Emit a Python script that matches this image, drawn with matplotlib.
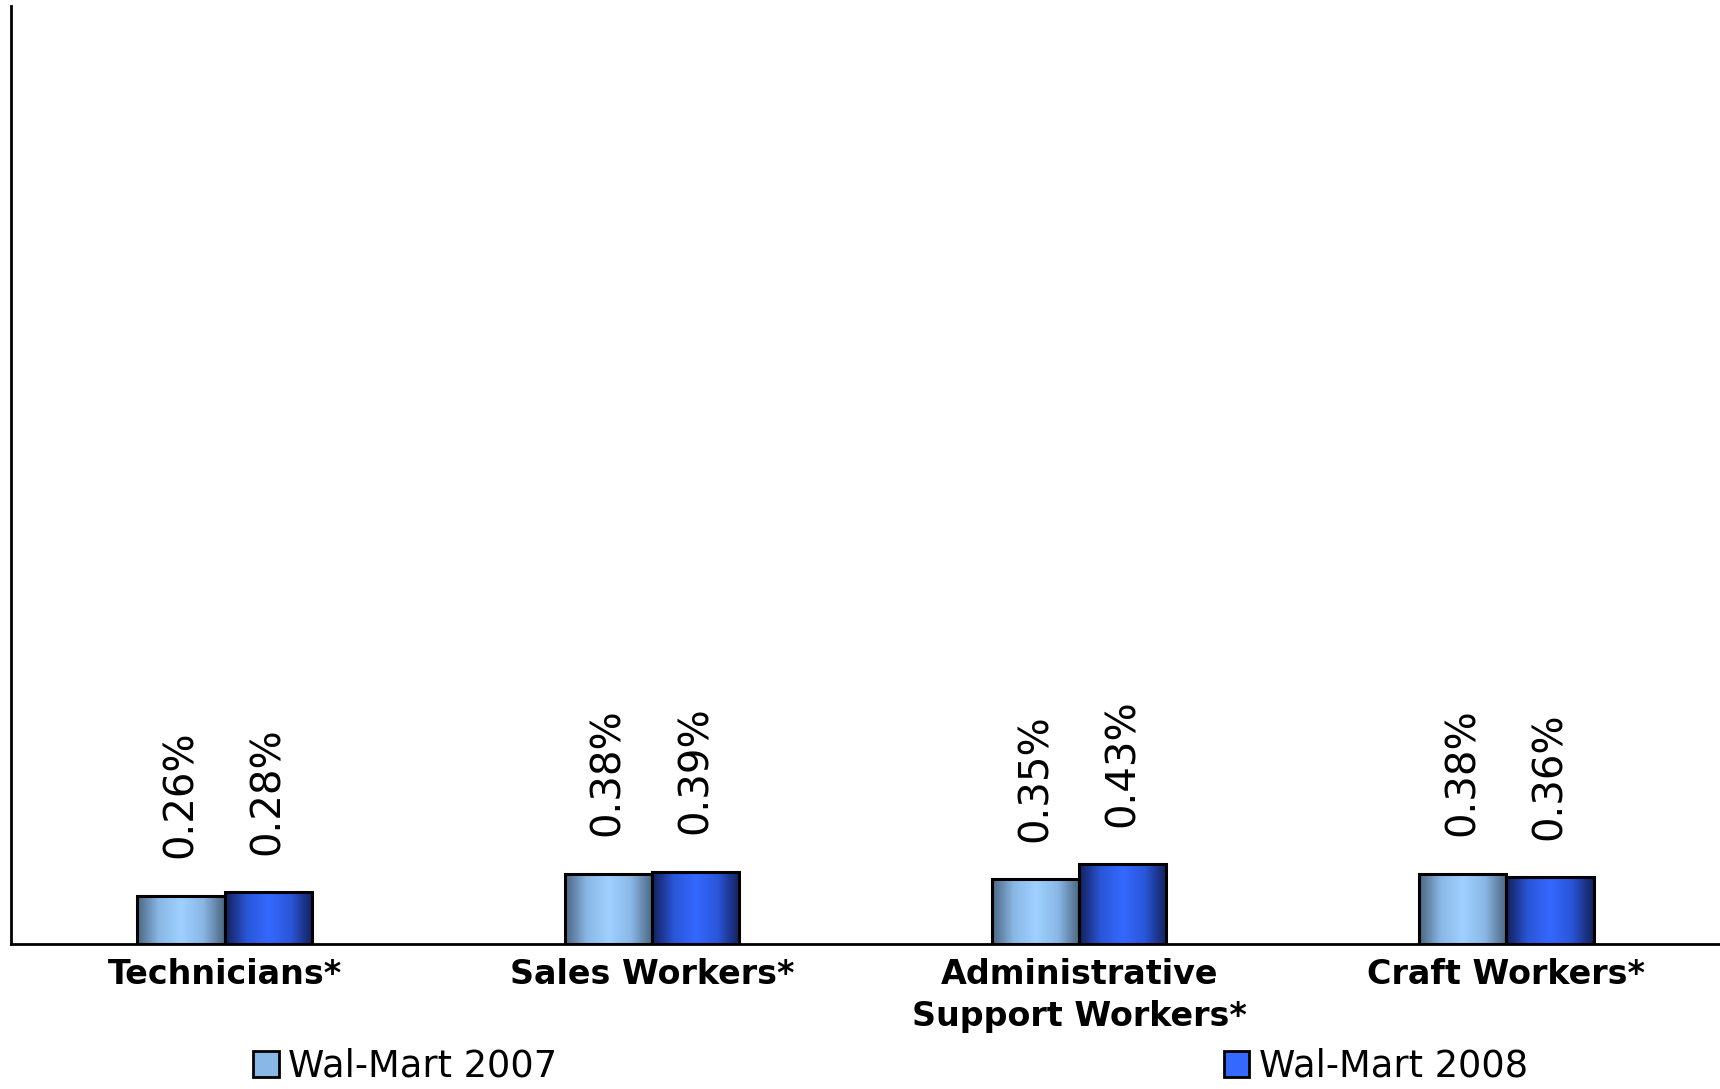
import numpy as np
import matplotlib
matplotlib.use('Agg')
import matplotlib.pyplot as plt
from matplotlib.colors import LinearSegmentedColormap
from matplotlib.patches import Patch

# data
categories = ['Technicians*', 'Sales Workers*', 'Administrative\nSupport Workers*', 'Craft Workers*']
walmart_2007 = [0.26, 0.38, 0.35, 0.38]
walmart_2008 = [0.28, 0.39, 0.43, 0.36]
series_names = ['Wal-Mart 2007', 'Wal-Mart 2008']

# gradient colours: edge -> centre -> edge
grad_2007 = ['#4b6580', '#8ab8e6', '#9fd0ff', '#8ab8e6', '#4b6580']
grad_2008 = ['#13205a', '#2a56d8', '#3468ff', '#2a56d8', '#13205a']

fig = plt.figure(figsize=(17.2, 10.89), dpi=100)
ax = fig.add_axes([0.0064, 0.1331, 0.9936, 0.8614])

x = np.arange(len(categories))
w = 0.204

bars1 = ax.bar(x - w / 2, walmart_2007, w, facecolor='none', edgecolor='black', linewidth=2.2, zorder=3)
bars2 = ax.bar(x + w / 2, walmart_2008, w, facecolor='none', edgecolor='black', linewidth=2.2, zorder=3)

grad = np.linspace(0, 1, 256).reshape(1, -1)
for bars, cols in [(bars1, grad_2007), (bars2, grad_2008)]:
    cmap = LinearSegmentedColormap.from_list('g', cols)
    for b in bars:
        bx, by = b.get_x(), b.get_y()
        bw, bh = b.get_width(), b.get_height()
        im = ax.imshow(grad, cmap=cmap, aspect='auto', extent=[bx, bx + bw, by, by + bh],
                       zorder=2, interpolation='bicubic')
        im.set_clip_path(b)

# value labels
for bars, vals in [(bars1, walmart_2007), (bars2, walmart_2008)]:
    for b, v in zip(bars, vals):
        ax.annotate('%.2f%%' % v, (b.get_x() + b.get_width() / 2, b.get_height()),
                    xytext=(0, 27), textcoords='offset points', rotation=90,
                    ha='center', va='bottom', fontsize=29, color='black')

ax.set_xlim(-0.5, len(categories) - 0.5)
ax.set_ylim(0, 5.07)
ax.set_yticks([])
ax.set_xticks(x)
ax.set_xticklabels(categories, fontsize=24, fontweight='bold', linespacing=1.35)
ax.tick_params(axis='x', length=0, pad=10)
ax.spines['top'].set_visible(False)
ax.spines['right'].set_visible(False)
ax.spines['left'].set_linewidth(2)
ax.spines['bottom'].set_linewidth(2)

handles = [Patch(facecolor='#8ab8e6', edgecolor='black', linewidth=2),
           Patch(facecolor='#3468ff', edgecolor='black', linewidth=2)]
fig.legend(handles, series_names, loc='center left', bbox_to_anchor=(0.1366, 0.021), ncol=2,
           frameon=False, fontsize=26.5, handlelength=0.7, handleheight=0.7,
           handletextpad=0.25, columnspacing=18.1, borderpad=0)

fig.savefig('out.png', dpi=100)
